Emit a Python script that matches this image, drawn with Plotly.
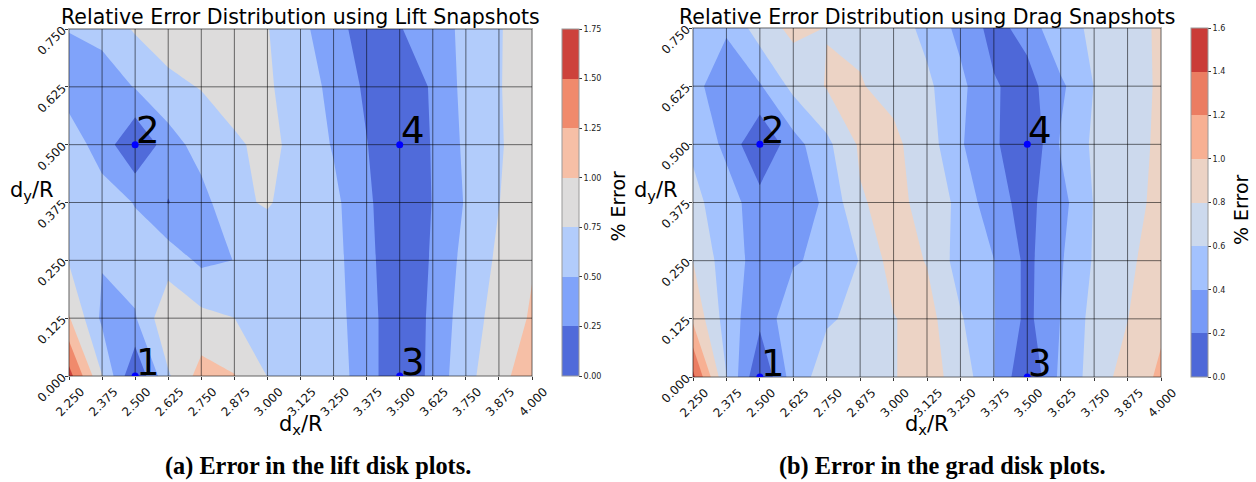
import plotly.graph_objects as go

# ---------------- data ----------------
x_vals = [2.25, 2.375, 2.5, 2.625, 2.75, 2.875, 3.0, 3.125, 3.25, 3.375, 3.5, 3.625, 3.75, 3.875, 4.0]
y_vals = [0.0, 0.125, 0.25, 0.375, 0.5, 0.625, 0.75]
x_ticktext = ["%.3f" % v for v in x_vals]
y_ticktext = ["%.3f" % v for v in y_vals]

# % error, rows = y_vals (bottom to top), columns = x_vals
lift_err = [
    [1.60, 0.76, 0.01, 0.72, 1.10, 1.01, 0.745, 0.65, 0.606, 0.385, 0.01, 0.326, 0.68, 0.90, 1.18],
    [1.02, 0.45, 0.48, 0.95, 0.82, 0.752, 0.60, 0.65, 0.58, 0.379, 0.02, 0.31, 0.628, 0.846, 1.029],
    [0.73, 0.514, 0.60, 0.642, 0.45, 0.503, 0.60, 0.65, 0.577, 0.336, 0.03, 0.28, 0.582, 0.792, 0.98],
    [0.66, 0.60, 0.49, 0.24, 0.40, 0.71, 0.77, 0.65, 0.56, 0.305, 0.03, 0.259, 0.521, 0.745, 0.90],
    [0.62, 0.40, 0.01, 0.38, 0.61, 0.715, 0.8125, 0.67, 0.48, 0.26, 0.01, 0.27, 0.549, 0.723, 0.90],
    [0.40, 0.33, 0.515, 0.70, 0.76, 0.85, 0.79, 0.593, 0.45, 0.20, 0.08, 0.279, 0.579, 0.735, 0.89],
    [0.507, 0.60, 0.775, 0.85, 0.90, 0.95, 0.76, 0.57, 0.33, 0.15, 0.23, 0.44, 0.53, 0.73, 0.90],
]
drag_err = [
    [1.45, 0.605, 0.01, 0.50, 0.69, 0.74, 0.79, 0.88, 0.72, 0.41, 0.01, 0.45, 0.68, 0.894, 1.033],
    [0.96, 0.51, 0.25, 0.55, 0.58, 0.64, 0.79, 0.88, 0.62, 0.41, 0.15, 0.405, 0.67, 0.795, 0.967],
    [0.798, 0.49, 0.33, 0.38, 0.45, 0.61, 0.89, 0.79, 0.51, 0.405, 0.15, 0.38, 0.62, 0.77, 0.877],
    [0.65, 0.50, 0.28, 0.30, 0.43, 0.78, 0.87, 0.72, 0.553, 0.259, 0.146, 0.33, 0.61, 0.76, 0.83],
    [0.57, 0.35, 0.01, 0.32, 0.55, 0.83, 0.84, 0.70, 0.42, 0.24, 0.01, 0.42, 0.634, 0.77, 0.814],
    [0.45, 0.30, 0.38, 0.655, 0.813, 0.81, 0.75, 0.64, 0.45, 0.22, 0.12, 0.36, 0.605, 0.74, 0.82],
    [0.50, 0.42, 0.70, 0.85, 0.795, 0.77, 0.70, 0.544, 0.344, 0.132, 0.274, 0.574, 0.612, 0.75, 0.82],
]

snap_x = [2.5, 2.5, 3.5, 3.5]
snap_y = [0.0, 0.5, 0.0, 0.5]
snap_labels = ["1", "2", "3", "4"]

lift_levels = [0.0, 0.25, 0.5, 0.75, 1.0, 1.25, 1.5, 1.75]
drag_levels = [0.0, 0.2, 0.4, 0.6, 0.8, 1.0, 1.2, 1.4, 1.6]

titles = ["Relative Error Distribution using Lift Snapshots",
          "Relative Error Distribution using Drag Snapshots"]
captions = ["(a) Error in the lift disk plots.", "(b) Error in the grad disk plots."]

# ---------------- style ----------------
lift_colors = ["#506bda", "#80a3fa", "#b2ccfb", "#dddcdc", "#f6bfa6", "#f08a6c", "#cd423b"]
drag_colors = ["#4e68d8", "#779af7", "#a3c2fe", "#ccd9ed", "#ecd3c5", "#f7b093", "#eb7d62", "#ca3b37"]

W, H = 1256, 482
FONT = "DejaVu Sans"


def px(v):
    return v / W


def py(v):
    return 1 - v / H


def step_scale(colors):
    n = len(colors)
    sc = []
    for i, c in enumerate(colors):
        sc.append([i / n, c])
        sc.append([(i + 1) / n, c])
    return sc


panels = [
    dict(z=lift_err, levels=lift_levels, colors=lift_colors, fmt=".2f", xa="x", ya="y",
         plot=(69, 532, 29, 376), cbx=562, cbtitle=(617.5, 206), title_x=300.5,
         ylab_x=32, cap_x=318),
    dict(z=drag_err, levels=drag_levels, colors=drag_colors, fmt=".1f", xa="x2", ya="y2",
         plot=(693, 1161, 28, 377), cbx=1191, cbtitle=(1241, 210), title_x=927,
         ylab_x=656.5, cap_x=942),
]

fig = go.Figure()
annotations = []

for k, p in enumerate(panels):
    x0, x1, y0, y1 = p["plot"]
    lv = p["levels"]
    fig.add_trace(go.Contour(
        x=x_vals, y=y_vals, z=p["z"],
        xaxis=p["xa"], yaxis=p["ya"],
        zmin=lv[0], zmax=lv[-1], autocontour=False,
        contours=dict(start=lv[0], end=lv[-1], size=lv[1] - lv[0], coloring="fill", showlines=False),
        line=dict(width=0, smoothing=0),
        colorscale=step_scale(p["colors"]),
        hoverinfo="skip",
        colorbar=dict(
            x=px(p["cbx"]), xanchor="left", xpad=0, ypad=0,
            y=py((y0 + y1) / 2), yanchor="middle",
            len=(y1 - y0) / H, lenmode="fraction",
            thickness=17, thicknessmode="pixels",
            outlinewidth=1, outlinecolor="#9a9a9a",
            ticks="outside", ticklen=3, tickwidth=1, tickcolor="#333",
            tickmode="array", tickvals=lv, tickformat=p["fmt"],
            tickfont=dict(family=FONT, size=8, color="#222"),
        ),
    ))
    # grid lines drawn above the filled contours
    gx, gy = [], []
    for xv in x_vals:
        gx += [xv, xv, None]
        gy += [y_vals[0], y_vals[-1], None]
    for yv in y_vals:
        gx += [x_vals[0], x_vals[-1], None]
        gy += [yv, yv, None]
    fig.add_trace(go.Scatter(x=gx, y=gy, mode="lines", xaxis=p["xa"], yaxis=p["ya"],
                             line=dict(color="rgba(0,0,0,0.55)", width=1),
                             hoverinfo="skip", showlegend=False))
    # snapshot points
    fig.add_trace(go.Scatter(x=snap_x, y=snap_y, mode="markers", xaxis=p["xa"], yaxis=p["ya"],
                             marker=dict(color="#0000ff", size=7), hoverinfo="skip",
                             showlegend=False))
    for sx, sy, lab in zip(snap_x, snap_y, snap_labels):
        annotations.append(dict(x=sx, y=sy, xref=p["xa"], yref=p["ya"], text=lab,
                                showarrow=False, xanchor="left", yanchor="bottom",
                                borderpad=0, yshift=-8.5, xshift=0,
                                font=dict(family=FONT, size=37, color="black")))
    # title
    annotations.append(dict(x=px(p["title_x"]), y=py(25.5 + 0.236 * 20.5), xref="paper", yref="paper",
                            text=titles[k], showarrow=False, xanchor="center", yanchor="bottom",
                            borderpad=0, font=dict(family=FONT, size=20.5, color="black")))
    # axis titles
    annotations.append(dict(x=px((x0 + x1) / 2), y=py(430 - 0.928 * 21), xref="paper", yref="paper",
                            text="d<sub>x</sub>/R", showarrow=False, xanchor="center", yanchor="top",
                            borderpad=0, font=dict(family=FONT, size=21, color="black")))
    annotations.append(dict(x=px(p["ylab_x"]), y=py(196.5 - 0.928 * 21), xref="paper", yref="paper",
                            text="d<sub>y</sub>/R", showarrow=False, xanchor="center", yanchor="top",
                            borderpad=0, font=dict(family=FONT, size=21, color="black")))
    # colorbar title
    cx, cy = p["cbtitle"]
    annotations.append(dict(x=px(cx), y=py(cy), xref="paper", yref="paper", text="% Error",
                            textangle=-90, showarrow=False, xanchor="center", yanchor="middle",
                            borderpad=0, font=dict(family=FONT, size=19, color="black")))
    # caption
    annotations.append(dict(x=px(p["cap_x"]), y=py(466), xref="paper", yref="paper",
                            text="<b>%s</b>" % captions[k], showarrow=False, xanchor="center",
                            yanchor="middle", borderpad=0,
                            font=dict(family="Liberation Serif", size=24.3, color="black")))

axis_common = dict(showgrid=False, zeroline=False, showline=True, mirror=True,
                   linecolor="#b0b0b0", linewidth=1, ticks="outside", ticklen=3,
                   tickcolor="#333", tickangle=-45, automargin=False,
                   tickfont=dict(family=FONT, size=12, color="#111"))

layout = dict(
    width=W, height=H, margin=dict(l=0, r=0, t=0, b=0, autoexpand=False),
    paper_bgcolor="white", plot_bgcolor="white", showlegend=False,
    annotations=annotations,
)
for k, p in enumerate(panels):
    x0, x1, y0, y1 = p["plot"]
    sfx = "" if k == 0 else "2"
    layout["xaxis" + sfx] = dict(axis_common, domain=[px(x0), px(x1)], range=[x_vals[0], x_vals[-1]],
                                 tickmode="array", tickvals=x_vals, ticktext=x_ticktext,
                                 anchor="y" + sfx, ticklabelshift=12)
    layout["yaxis" + sfx] = dict(axis_common, domain=[py(y1), py(y0)], range=[y_vals[0], y_vals[-1]],
                                 tickmode="array", tickvals=y_vals, ticktext=y_ticktext,
                                 anchor="x" + sfx)

fig.update_layout(**layout)
fig.write_html("out.html")
